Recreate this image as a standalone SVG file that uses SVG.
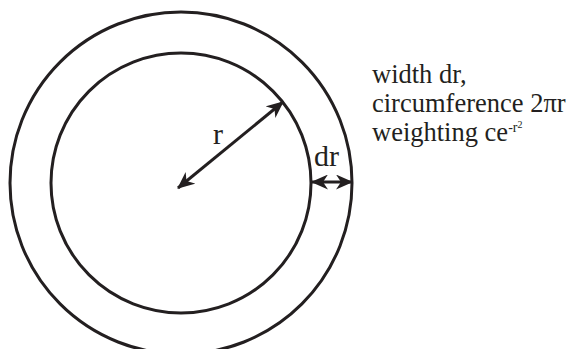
<svg xmlns="http://www.w3.org/2000/svg" width="569" height="349" viewBox="0 0 569 349">
<style>
.ring{fill:none;stroke:#231f20;stroke-width:3}
.arr{fill:none;stroke:#231f20;stroke-width:3;marker-start:url(#ah);marker-end:url(#ah)}
.t{font-family:"Liberation Serif","Times New Roman",serif;fill:#231f20}
</style>
<defs>
<marker id="ah" markerUnits="userSpaceOnUse" viewBox="0 0 17 15" refX="16" refY="7.5" markerWidth="17" markerHeight="15" orient="auto-start-reverse">
<path d="M0,0 L17,7.5 L0,15 L5,7.5 Z" fill="#231f20"/>
</marker>
</defs>
<g id="outer-circle"><circle class="ring" cx="181" cy="183" r="171"/></g>
<g id="inner-circle"><circle class="ring" cx="181" cy="183" r="130"/></g>
<g id="connectors">
<line class="arr" x1="178" y1="188" x2="283" y2="102"/>
<line class="arr" x1="312" y1="182" x2="352" y2="182"/>
</g>
<g id="label-r"><text class="t" x="213" y="144" font-size="30">r</text></g>
<g id="label-dr"><text class="t" x="314" y="166" font-size="30">dr</text></g>
<g id="caption">
<text class="t" x="372" y="83" font-size="26.5">width dr,</text>
<text class="t" x="372" y="112" font-size="26.5">circumference 2πr</text>
<text class="t" x="372" y="141" font-size="26.5">weighting ce<tspan font-size="14" dy="-9">-r</tspan><tspan font-size="10" dy="-4">2</tspan></text>
</g>
</svg>
